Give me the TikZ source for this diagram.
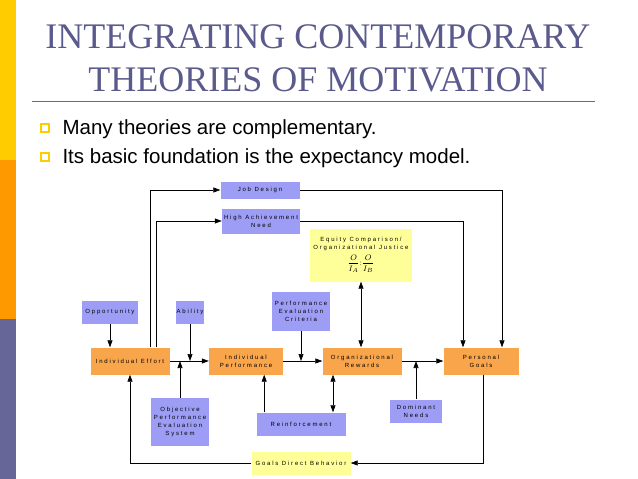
\documentclass[tikz,border=0pt]{standalone}
\usepackage{fontspec}
\setmainfont{Liberation Sans}
\newfontfamily\titlefont{Liberation Serif}
\newfontfamily\boxfont[LetterSpace=30]{Liberation Sans}
\usetikzlibrary{arrows.meta,positioning}
\definecolor{barYellow}{HTML}{FFCC00}
\definecolor{barOrange}{HTML}{FF9900}
\definecolor{barPurple}{HTML}{666699}
\definecolor{titleBlue}{HTML}{5A5A8C}
\definecolor{boxOrange}{HTML}{F9A54B}
\definecolor{boxBlue}{HTML}{9D9DF5}
\definecolor{boxYellow}{HTML}{FFFF99}
\tikzset{
    x=1pt,y=-1pt,
    base/.style ={inner sep=1pt, align=center, font=\boxfont\fontsize{6}{8}\selectfont},
    mainbox/.style ={base, fill=boxOrange},
    sidebox/.style ={base, fill=boxBlue},
    notebox/.style ={base, fill=boxYellow},
    bullet/.style ={draw=barYellow, line width=1.5pt, minimum size=8pt, inner sep=0pt},
    flow/.style={-{Triangle[length=7pt,width=5pt]}, semithick},
    both/.style={{Triangle[length=7pt,width=5pt]}-{Triangle[length=7pt,width=5pt]}, semithick}
}
\begin{document}
\begin{tikzpicture}
    \useasboundingbox (0,0) rectangle (638,479);
    % side bar
    \fill[barYellow] (0,0) rectangle (16,160);
    \fill[barOrange] (0,160) rectangle (16,319);
    \fill[barPurple] (0,319) rectangle (16,479);
    % title
    \node[font=\titlefont\fontsize{36}{43}\selectfont, color=titleBlue, align=center] (title) at (318,58) {INTEGRATING CONTEMPORARY\\THEORIES OF MOTIVATION};
    \draw[barPurple, thick] (32,101) -- (595,101);
    % bullets
    \node[bullet] (b1) at (45,128) {};
    \node[bullet] (b2) at (45,157) {};
    \node[anchor=west, font=\fontsize{20.5}{24}\selectfont] (t1) at (59,129) {Many theories are complementary.};
    \node[anchor=west, font=\fontsize{20.5}{24}\selectfont] (t2) at (59,158) {Its basic foundation is the expectancy model.};
    % main chain
    \node[mainbox, minimum width=79pt, minimum height=27pt] (effort) at (130,361) {Individual Effort};
    \node[mainbox, minimum width=74pt, minimum height=27pt] (perf) at (246,361) {Individual\\Performance};
    \node[mainbox, minimum width=79pt, minimum height=27pt] (rewards) at (362,361) {Organizational\\Rewards};
    \node[mainbox, minimum width=75pt, minimum height=27pt] (goals) at (481,361) {Personal\\Goals};
    % side boxes
    \node[sidebox, minimum width=79pt, minimum height=17pt] (jobdesign) at (260,190) {Job Design};
    \node[sidebox, minimum width=78pt, minimum height=25pt] (achieve) at (261,221) {High Achievement\\Need};
    \node[notebox, minimum width=102pt, minimum height=53pt] (equity) at (361,255) {Equity Comparison/\\Organizational Justice\\[3pt]{\fontsize{8}{9}\selectfont$\displaystyle\frac{O}{I_A}{:}\frac{O}{I_B}$}};
    \node[sidebox, minimum width=56pt, minimum height=23pt] (opportunity) at (110,312) {Opportunity};
    \node[sidebox, minimum width=28pt, minimum height=23pt] (ability) at (190,312) {Ability};
    \node[sidebox, minimum width=58pt, minimum height=39pt] (criteria) at (301,311) {Performance\\Evaluation\\Criteria};
    \node[sidebox, minimum width=58pt, minimum height=48pt] (objective) at (180,422) {Objective\\Performance\\Evaluation\\System};
    \node[sidebox, minimum width=89pt, minimum height=23pt] (reinforce) at (301,424) {Reinforcement};
    \node[sidebox, minimum width=52pt, minimum height=23pt] (dominant) at (416,411) {Dominant\\Needs};
    \node[notebox, minimum width=99pt, minimum height=23pt] (direct) at (301,463) {Goals Direct Behavior};
    % connectors
    \draw[flow] (effort) -- (perf);
    \draw[flow] (perf) -- (rewards);
    \draw[flow] (rewards) -- (goals);
    \draw[flow] (opportunity) -- (effort.north -| opportunity);
    \draw[flow] (ability) -- (ability |- effort.east);
    \draw[flow] (objective) -- (objective.north |- effort.east);
    \draw[flow] (criteria) -- (criteria |- perf.east);
    \draw[flow] ([xshift=20pt]effort.north) |- (jobdesign);
    \draw[flow] (jobdesign) -| ([xshift=21pt]goals.north);
    \draw[flow] ([xshift=26pt]effort.north) |- (achieve);
    \draw[flow] (achieve) -| ([xshift=-18pt]goals.north);
    \draw[both] (equity) -- (equity.south |- rewards.north);
    \draw[flow] (reinforce.north -| perf.south east) ++(-19pt,0) coordinate (rf) -- (rf |- perf.south);
    \draw[both] ([xshift=-29pt]rewards.south) -- ([xshift=-29pt]rewards.south |- reinforce.north);
    \draw[flow] (dominant) -- (dominant |- rewards.east);
    \draw[flow] ([xshift=2pt]goals.south) |- (direct);
    \draw[flow] (direct) -| (effort.south);
\end{tikzpicture}
\end{document}
